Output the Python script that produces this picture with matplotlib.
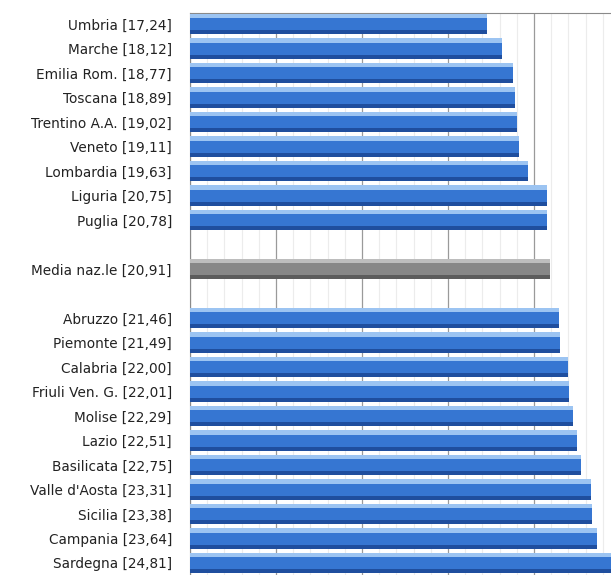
import matplotlib

matplotlib.use("Agg")
import matplotlib.pyplot as plt

regions = ["Umbria", "Marche", "Emilia Rom.", "Toscana", "Trentino A.A.", "Veneto",
           "Lombardia", "Liguria", "Puglia", "Media naz.le", "Abruzzo", "Piemonte",
           "Calabria", "Friuli Ven. G.", "Molise", "Lazio", "Basilicata",
           "Valle d'Aosta", "Sicilia", "Campania", "Sardegna"]
values = [17.24, 18.12, 18.77, 18.89, 19.02, 19.11, 19.63, 20.75, 20.78, 20.91,
          21.46, 21.49, 22.00, 22.01, 22.29, 22.51, 22.75, 23.31, 23.38, 23.64, 24.81]
# empty rows around the national average
slots = list(range(9)) + [10] + list(range(12, 23))

fig = plt.figure(figsize=(6.11, 5.75), dpi=100)
ax = fig.add_axes([190 / 611, 0, 1 - 190 / 611, 1 - 13 / 575])

h = 0.82
for s, name, v in zip(slots, regions, values):
    if name.startswith("Media"):
        light, mid, dark = "#bdbdbd", "#878787", "#5c5c5c"
    else:
        light, mid, dark = "#9cc4f2", "#3676d2", "#1f4e9e"
    ax.barh(s, v, height=h, color=mid, zorder=3)
    ax.barh(s - h / 2 + 0.09, v, height=0.18, color=light, zorder=4)
    ax.barh(s + h / 2 - 0.08, v, height=0.16, color=dark, zorder=4)

labels = [f"{n} [{v:.2f}]".replace(f"{v:.2f}", f"{v:.2f}".replace(".", ",")) for n, v in zip(regions, values)]
ax.set_yticks(slots)
ax.set_yticklabels(labels, fontsize=9.8, color="#222222")
ax.tick_params(axis="y", length=0, pad=13)
ax.set_xticks(range(0, 30, 5))
ax.set_xticks(range(0, 30), minor=True)
ax.tick_params(axis="x", which="both", length=0, labelbottom=False)
ax.grid(axis="x", which="major", color="#9a9a9a", lw=0.9, zorder=1)
ax.grid(axis="x", which="minor", color="#ececec", lw=0.8, zorder=0)
ax.set_xlim(0, (611 - 190) / 17.2)
ax.set_ylim(22.49, -0.45)

for side in ["right", "bottom"]:
    ax.spines[side].set_visible(False)
ax.spines["top"].set_color("#8a8a8a")
ax.spines["left"].set_color("#8a8a8a")

fig.savefig("out.png", dpi=100)
